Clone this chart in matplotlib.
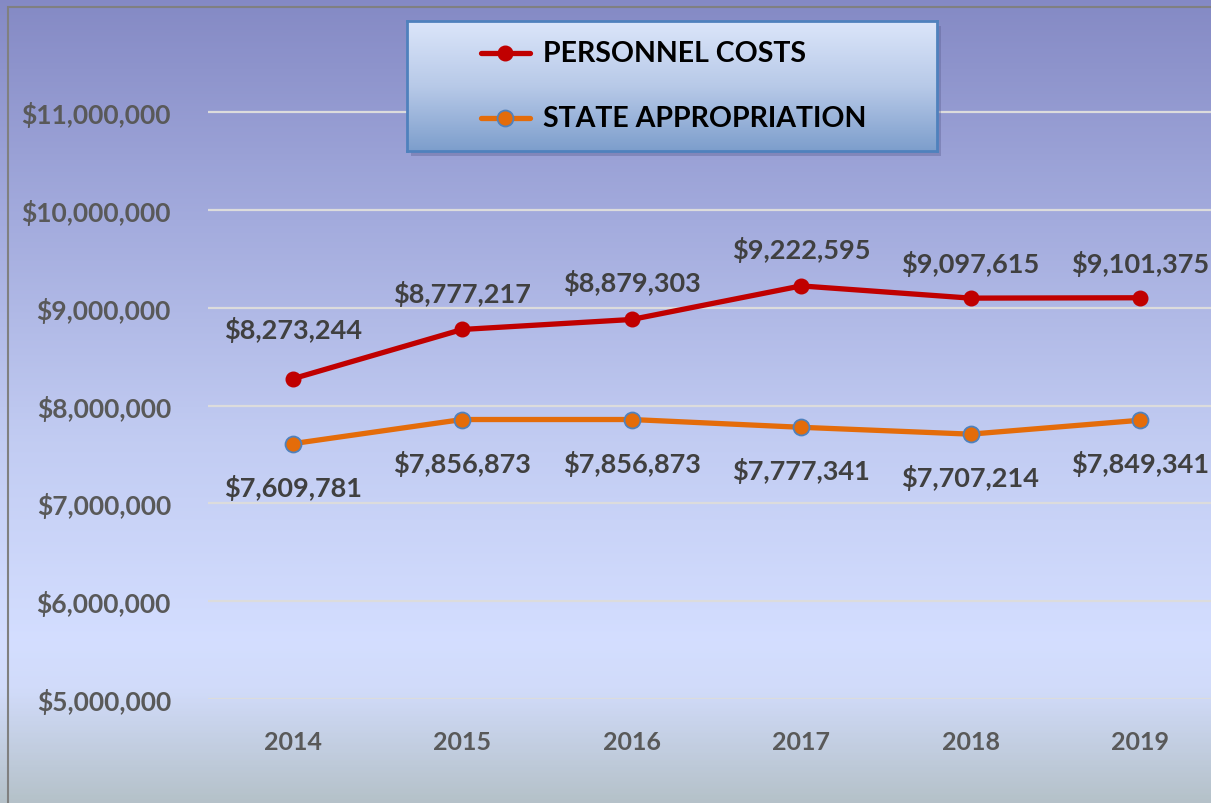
import numpy as np
import matplotlib.pyplot as plt
from matplotlib.colors import LinearSegmentedColormap
from matplotlib.patches import Rectangle
from matplotlib.lines import Line2D

# data
years = ["2014", "2015", "2016", "2017", "2018", "2019"]
personnel = [8273244, 8777217, 8879303, 9222595, 9097615, 9101375]
state = [7609781, 7856873, 7856873, 7777341, 7707214, 7849341]
yticks = [5000000, 6000000, 7000000, 8000000, 9000000, 10000000, 11000000]

W, H = 1211, 804
PX = 1 / 1.389  # pixels -> points at 100 dpi
fig = plt.figure(figsize=(W / 100, H / 100), dpi=100)
plt.rcParams['font.family'] = ['Lato', 'DejaVu Sans']

# background gradient
bg = fig.add_axes([0, 0, 1, 1], zorder=-5)
cmap = LinearSegmentedColormap.from_list("bg", [
    (0.0, (0.52, 0.54, 0.77)),
    (0.25, (0.63, 0.66, 0.86)),
    (0.55, (0.76, 0.80, 0.95)),
    (0.80, (0.83, 0.87, 1.0)),
    (0.86, (0.82, 0.86, 0.98)),
    (1.0, (0.71, 0.76, 0.79)),
])
bg.imshow(np.linspace(0, 1, 400).reshape(-1, 1), aspect="auto", cmap=cmap,
          extent=[0, 1, 0, 1], origin="upper")
bg.set_axis_off()
# outer chart border
fig.patches.append(Rectangle((8 / W, -0.1), 1.2, 1.1 - 8 / H, transform=fig.transFigure,
                             fill=False, ec="#808080", lw=1.5, zorder=-4))

# plot area
x0, x1 = 208, W
y_bottom, y_top = 700, 22
ax = fig.add_axes([x0 / W, (H - y_bottom) / H, (x1 - x0) / W, (y_bottom - y_top) / H])
ax.patch.set_alpha(0)
ax.set_xlim(-0.5, 5.419)
ax.set_ylim(5000000, 5000000 + (y_bottom - y_top) / 97.83 * 1e6)
for s in ax.spines.values():
    s.set_visible(False)
ax.set_yticks(yticks)
ax.set_yticklabels(["${:,}".format(v) for v in yticks])
ax.set_xticks(range(len(years)))
ax.set_xticklabels(years)
ax.tick_params(length=0, labelcolor="#595959")
ax.tick_params(axis="y", pad=37 * PX, labelsize=19)
ax.tick_params(axis="x", pad=31 * PX, labelsize=18)
for t in ax.get_xticklabels() + ax.get_yticklabels():
    t.set_fontweight("bold")
ax.grid(axis="y", color="#DCDCDC", lw=1.6)
ax.set_axisbelow(True)

x = np.arange(len(years))
ax.plot(x, personnel, color="#C00000", lw=3.8, marker="o", ms=10.5,
        mfc="#C00000", mec="#C00000", solid_capstyle="round", zorder=3)
ax.plot(x, state, color="#E46C0A", lw=3.8, marker="o", ms=11.5,
        mfc="#E46C0A", mec="#4F81BD", mew=1.3, solid_capstyle="round", zorder=3)

above = [50, 36, 37, 37, 35, 35]
for i, v in enumerate(personnel):
    ax.annotate("${:,}".format(v), (i, v), xytext=(0, above[i] * PX),
                textcoords="offset points", ha="center", va="center",
                fontsize=19.5, fontweight="bold", color="#404040")
for i, v in enumerate(state):
    ax.annotate("${:,}".format(v), (i, v), xytext=(0, -43 * PX),
                textcoords="offset points", ha="center", va="center",
                fontsize=19.5, fontweight="bold", color="#404040")

# legend box
lx0, ly0, lx1, ly1 = 407, 22, 937, 152
lg = fig.add_axes([lx0 / W, (H - ly1) / H, (lx1 - lx0) / W, (ly1 - ly0) / H], zorder=5)
lcmap = LinearSegmentedColormap.from_list("lg", [(0.86, 0.90, 0.98), (0.72, 0.79, 0.91), (0.49, 0.62, 0.80)])
lg.imshow(np.linspace(0, 1, 200).reshape(-1, 1), aspect="auto", cmap=lcmap,
          extent=[0, 1, 0, 1], origin="upper")
lg.set_xlim(0, 1)
lg.set_ylim(0, 1)
lg.set_xticks([])
lg.set_yticks([])
for s in lg.spines.values():
    s.set_color("#4F81BD")
    s.set_linewidth(2)
fig.patches.append(Rectangle(((lx0 + 4) / W, (H - ly1 - 5) / H), (lx1 - lx0) / W, (ly1 - ly0) / H,
                             transform=fig.transFigure, fc="#55588A", alpha=0.35, ec="none", zorder=4))

def lx(px):
    return (px - lx0) / (lx1 - lx0)

def ly(py):
    return 1 - (py - ly0) / (ly1 - ly0)

lg.add_line(Line2D([lx(481), lx(530)], [ly(54), ly(54)], color="#C00000", lw=3.8,
                   solid_capstyle="round"))
lg.plot([lx(505)], [ly(54)], "o", color="#C00000", ms=10.5)
lg.add_line(Line2D([lx(481), lx(530)], [ly(119), ly(119)], color="#E46C0A", lw=3.8,
                   solid_capstyle="round"))
lg.plot([lx(505)], [ly(119)], "o", mfc="#E46C0A", mec="#4F81BD", mew=1.3, ms=11.5)
lg.text(lx(543), ly(54), "PERSONNEL COSTS", fontsize=20.5, fontweight="bold",
        color="black", va="center", ha="left")
lg.text(lx(543), ly(119), "STATE APPROPRIATION", fontsize=20.5, fontweight="bold",
        color="black", va="center", ha="left")

fig.savefig("out.png", dpi=100)
